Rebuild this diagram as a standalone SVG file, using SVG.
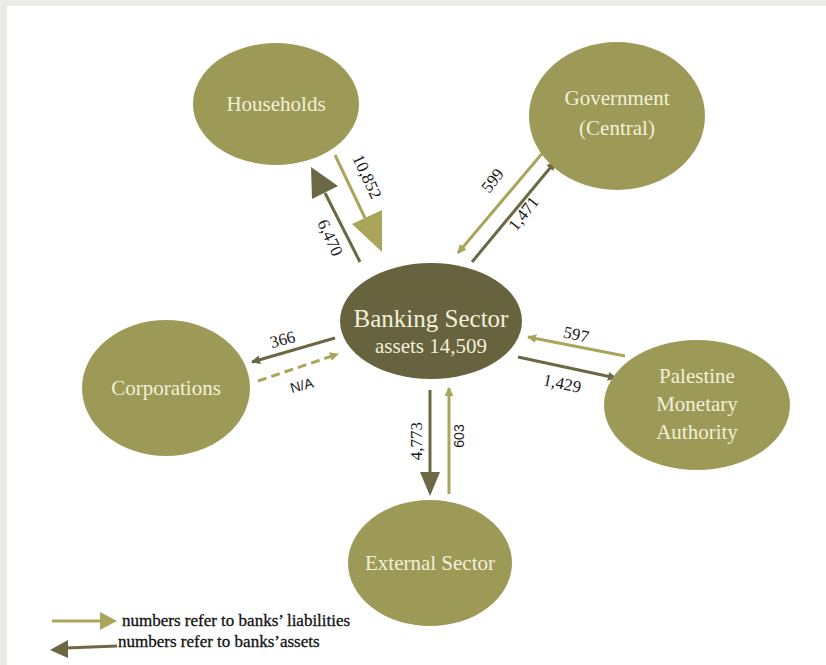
<svg xmlns="http://www.w3.org/2000/svg" width="826" height="665" viewBox="0 0 826 665">
<defs>
<style>
.node{fill:#9d9a57}
.core{fill:#67633f}
.nt{font-family:"Liberation Serif",serif;font-size:21px;fill:#f2f0d8;text-anchor:middle}
.lbl{font-family:"Liberation Serif",serif;font-size:17px;fill:#1a1a1a;text-anchor:middle}
.sans{font-family:"Liberation Sans",sans-serif;font-size:14px}
.lt{stroke:#a9a65b;stroke-width:3;fill:none}
.dk{stroke:#6b6846;stroke-width:3;fill:none}
.lg{font-family:"Liberation Serif",serif;font-size:17px;fill:#111;stroke:#111;stroke-width:0.3}
</style>
<marker id="hl" viewBox="0 0 10 10" refX="9" refY="5" markerWidth="3" markerHeight="3" orient="auto" markerUnits="strokeWidth"><path d="M0,0L10,5L0,10z" fill="#a9a65b"/></marker>
<marker id="hd" viewBox="0 0 10 10" refX="9" refY="5" markerWidth="3" markerHeight="3" orient="auto" markerUnits="strokeWidth"><path d="M0,0L10,5L0,10z" fill="#6b6846"/></marker>
</defs>
<rect width="826" height="665" fill="#ecece6"/>
<rect x="7" y="6" width="819" height="659" fill="#ffffff"/>
<g id="connectors">
<line class="lt" x1="335" y1="155" x2="365" y2="218"/>
<polygon points="352,224 382,210 382,252" fill="#a9a65b"/>
<line class="dk" x1="360" y1="262" x2="325" y2="193"/>
<polygon points="311,167 338,186 312,199" fill="#6b6846"/>
<line class="lt" x1="545" y1="150" x2="458" y2="253" marker-end="url(#hl)"/>
<line class="dk" x1="472" y1="262" x2="555" y2="162" marker-end="url(#hd)"/>
<line class="dk" x1="335" y1="338" x2="252" y2="362" marker-end="url(#hd)"/>
<line class="lt" x1="258" y1="381" x2="338" y2="354" stroke-dasharray="9,5" stroke-width="4" marker-end="url(#hl)"/>
<line class="dk" x1="430" y1="390" x2="430" y2="472"/>
<polygon points="420,472 440,472 430,496" fill="#6b6846"/>
<line class="lt" x1="449" y1="494" x2="449" y2="388" marker-end="url(#hl)"/>
<line class="lt" x1="625" y1="356" x2="528" y2="337" marker-end="url(#hl)"/>
<line class="dk" x1="518" y1="357" x2="616" y2="378" marker-end="url(#hd)"/>
</g>
<g id="households"><ellipse class="node" cx="276" cy="104" rx="83" ry="61"/><text class="nt" x="276" y="111">Households</text></g>
<g id="government"><ellipse class="node" cx="617" cy="116" rx="88" ry="74"/><text class="nt" x="617" y="105">Government</text><text class="nt" x="617" y="135">(Central)</text></g>
<g id="banking"><ellipse class="core" cx="431" cy="321" rx="91" ry="58"/><text class="nt" x="431" y="327" style="font-size:25px">Banking Sector</text><text class="nt" x="431" y="353">assets 14,509</text></g>
<g id="corporations"><ellipse class="node" cx="166" cy="388" rx="84" ry="68"/><text class="nt" x="166" y="395">Corporations</text></g>
<g id="pma"><ellipse class="node" cx="697" cy="405" rx="93" ry="65"/><text class="nt" x="697" y="383">Palestine</text><text class="nt" x="697" y="411">Monetary</text><text class="nt" x="697" y="439">Authority</text></g>
<g id="external"><ellipse class="node" cx="430" cy="563" rx="82" ry="63"/><text class="nt" x="430" y="570">External Sector</text></g>
<g id="labels">
<text class="lbl" transform="translate(362,179) rotate(65)">10,852</text>
<text class="lbl" transform="translate(325,240) rotate(65)">6,470</text>
<text class="lbl" transform="translate(497,184) rotate(-52)">599</text>
<text class="lbl" transform="translate(528,217) rotate(-52)">1,471</text>
<text class="lbl" transform="translate(284,345) rotate(-15)">366</text>
<text class="lbl sans" transform="translate(303,390) rotate(-15)">N/A</text>
<text class="lbl" transform="translate(422,441) rotate(-90)">4,773</text>
<text class="lbl sans" transform="translate(464,436) rotate(-90)">603</text>
<text class="lbl" transform="translate(575,340) rotate(12)">597</text>
<text class="lbl" transform="translate(561,389) rotate(12)">1,429</text>
</g>
<g id="legend">
<line class="lt" x1="52" y1="621" x2="104" y2="621" stroke-width="4"/>
<polygon points="100,612 117,621 100,630" fill="#a9a65b"/>
<line class="dk" x1="66" y1="648" x2="117" y2="646" stroke-width="4"/>
<polygon points="50,650 68,640 68,658" fill="#6b6846"/>
<text class="lg" x="122" y="626">numbers refer to banks’ liabilities</text>
<text class="lg" x="118" y="647">numbers refer to banks’assets</text>
</g>
</svg>
